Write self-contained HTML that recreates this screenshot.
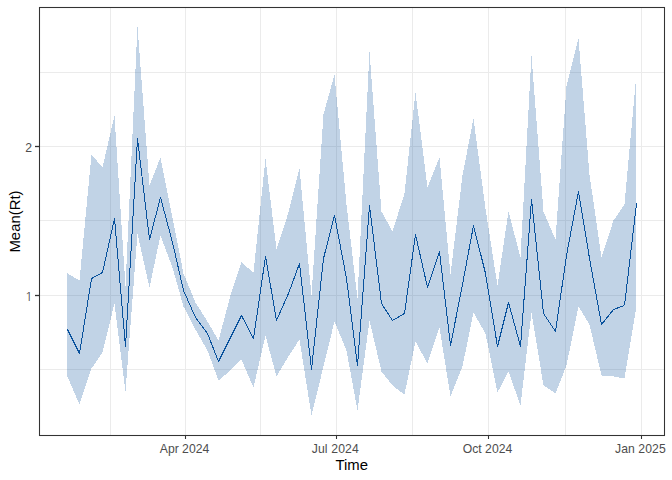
<!DOCTYPE html>
<html><head><meta charset="utf-8"><title>Mean(Rt) over Time</title>
<style>
html,body{margin:0;padding:0;background:#fff;}
svg{display:block;font-family:"Liberation Sans",sans-serif;}
.ax text{font-size:12.2px;fill:#4d4d4d;}
.ttl{font-size:14.9px;fill:#000;}
</style></head><body>
<svg width="672" height="480" viewBox="0 0 672 480">
<rect width="672" height="480" fill="#fff"/>
<g shape-rendering="crispEdges"><line x1="110.5" y1="7.5" x2="110.5" y2="435.5" stroke="#ebebeb" stroke-width="1"/><line x1="260.5" y1="7.5" x2="260.5" y2="435.5" stroke="#ebebeb" stroke-width="1"/><line x1="412.5" y1="7.5" x2="412.5" y2="435.5" stroke="#ebebeb" stroke-width="1"/><line x1="565.5" y1="7.5" x2="565.5" y2="435.5" stroke="#ebebeb" stroke-width="1"/><line x1="39.5" y1="72.5" x2="664.5" y2="72.5" stroke="#ebebeb" stroke-width="1"/><line x1="39.5" y1="220.5" x2="664.5" y2="220.5" stroke="#ebebeb" stroke-width="1"/><line x1="39.5" y1="369.5" x2="664.5" y2="369.5" stroke="#ebebeb" stroke-width="1"/><line x1="185.5" y1="7.5" x2="185.5" y2="435.5" stroke="#ebebeb" stroke-width="1"/><line x1="336.5" y1="7.5" x2="336.5" y2="435.5" stroke="#ebebeb" stroke-width="1"/><line x1="488.5" y1="7.5" x2="488.5" y2="435.5" stroke="#ebebeb" stroke-width="1"/><line x1="641.5" y1="7.5" x2="641.5" y2="435.5" stroke="#ebebeb" stroke-width="1"/><line x1="39.5" y1="146.5" x2="664.5" y2="146.5" stroke="#ebebeb" stroke-width="1"/><line x1="39.5" y1="295.5" x2="664.5" y2="295.5" stroke="#ebebeb" stroke-width="1"/></g>
<polygon points="67.5,273.5 79.5,280.5 91.5,154.5 102.5,167.5 114.5,115.5 125.5,286.5 137.5,26.5 149.5,185.5 160.5,157.5 172.5,217.5 183.5,273.5 195.5,302.5 207.5,321.5 218.5,340.5 230.5,295.5 241.5,262.5 253.5,272.5 265.5,158.5 276.5,249.5 288.5,212.5 299.5,168.5 311.5,295.5 323.5,114.5 334.5,74.5 346.5,204.5 357.5,298.5 369.5,51.5 381.5,211.5 392.5,231.5 404.5,193.5 415.5,92.5 427.5,187.5 439.5,157.5 450.5,274.5 462.5,175.5 473.5,118.5 485.5,208.5 497.5,285.5 508.5,211.5 520.5,257.5 531.5,55.5 543.5,211.5 555.5,239.5 566.5,86.5 578.5,38.5 589.5,174.5 601.5,257.5 613.5,220.5 624.5,204.5 636.5,73.5 636.5,306.5 624.5,378.5 613.5,376.5 601.5,375.5 589.5,324.5 578.5,306.5 566.5,365.5 555.5,393.5 543.5,385.5 531.5,312.5 520.5,405.5 508.5,371.5 497.5,392.5 485.5,333.5 473.5,312.5 462.5,366.5 450.5,396.5 439.5,327.5 427.5,363.5 415.5,341.5 404.5,394.5 392.5,385.5 381.5,371.5 369.5,320.5 357.5,410.5 346.5,350.5 334.5,321.5 323.5,366.5 311.5,415.5 299.5,339.5 288.5,356.5 276.5,376.5 265.5,335.5 253.5,387.5 241.5,359.5 230.5,370.5 218.5,380.5 207.5,350.5 195.5,329.5 183.5,306.5 172.5,267.5 160.5,235.5 149.5,287.5 137.5,233.5 125.5,391.5 114.5,303.5 102.5,352.5 91.5,368.5 79.5,404.5 67.5,376.5" fill="#08519c" fill-opacity="0.25" shape-rendering="crispEdges" transform="translate(-0.02,-0.02)"/>
<polyline points="67.5,329.5 79.5,353.5 91.5,278.5 102.5,272.5 114.5,218.5 125.5,346.5 137.5,138.5 149.5,239.5 160.5,197.5 172.5,242.5 183.5,290.5 195.5,317.5 207.5,333.5 218.5,361.5 230.5,337.5 241.5,315.5 253.5,338.5 265.5,256.5 276.5,320.5 288.5,293.5 299.5,263.5 311.5,369.5 323.5,258.5 334.5,215.5 346.5,278.5 357.5,365.5 369.5,205.5 381.5,303.5 392.5,320.5 404.5,313.5 415.5,234.5 427.5,287.5 439.5,251.5 450.5,345.5 462.5,284.5 473.5,225.5 485.5,273.5 497.5,346.5 508.5,302.5 520.5,346.5 531.5,199.5 543.5,313.5 555.5,331.5 566.5,255.5 578.5,191.5 589.5,258.5 601.5,324.5 613.5,309.5 624.5,305.5 636.5,203.5" fill="none" stroke="#08519c" stroke-width="1" stroke-linejoin="round" shape-rendering="crispEdges"/>
<rect x="39.5" y="7.5" width="625.0" height="428.0" fill="none" stroke="#333" stroke-width="1.07"/>
<g><line x1="185.5" y1="435.5" x2="185.5" y2="439" stroke="#333" stroke-width="1.07"/><line x1="336.5" y1="435.5" x2="336.5" y2="439" stroke="#333" stroke-width="1.07"/><line x1="488.5" y1="435.5" x2="488.5" y2="439" stroke="#333" stroke-width="1.07"/><line x1="641.5" y1="435.5" x2="641.5" y2="439" stroke="#333" stroke-width="1.07"/><line x1="35" y1="146.5" x2="39.5" y2="146.5" stroke="#333" stroke-width="1.3"/><line x1="35" y1="295.5" x2="39.5" y2="295.5" stroke="#333" stroke-width="1.3"/></g>
<g class="ax"><text x="184.5" y="452.7" text-anchor="middle" letter-spacing="0">Apr 2024</text><text x="335.3" y="452.7" text-anchor="middle" letter-spacing="0.15">Jul 2024</text><text x="487.5" y="452.7" text-anchor="middle" letter-spacing="0.03">Oct 2024</text><text x="640.4" y="452.7" text-anchor="middle" letter-spacing="0.08">Jan 2025</text><text x="32" y="151.9" text-anchor="end">2</text><text x="32.7" y="300.9" text-anchor="end" style="font-family:&quot;NanumGothic&quot;,&quot;Liberation Sans&quot;,sans-serif;font-size:12.6px">1</text></g>
<text class="ttl" x="351.7" y="469.6" text-anchor="middle">Time</text>
<text class="ttl" transform="translate(19.9,221.5) rotate(-90)" text-anchor="middle">Mean(Rt)</text>
</svg>
</body></html>
